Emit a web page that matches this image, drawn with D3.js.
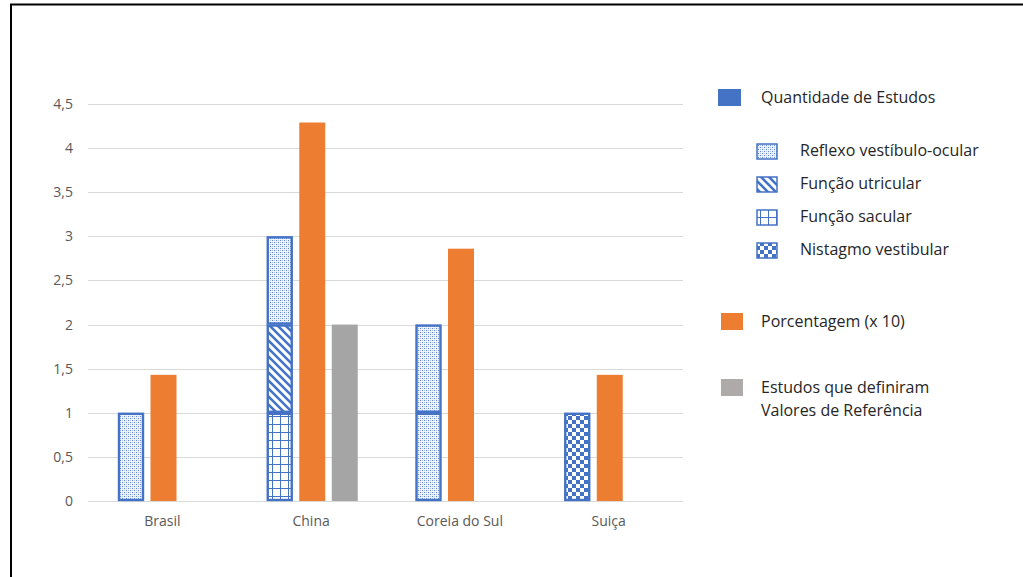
<!DOCTYPE html>
<html>
<head>
<meta charset="utf-8">
<script src="https://cdn.jsdelivr.net/npm/d3@7"></script>
<style>
  body { margin: 0; background: #fff; }
  svg { display: block; font-family: "Open Sans", "Noto Sans", sans-serif; }
  svg text { font-family: "Open Sans", "Noto Sans", sans-serif; }
</style>
</head>
<body>
<svg id="chart" width="1023" height="577"></svg>
<script>
/* Estudos por país */

var countries = ["Brasil", "China", "Coreia do Sul", "Suiça"];
// segmentos empilhados da "Quantidade de Estudos" (cada um vale 1 estudo), de baixo para cima
var studySegments = [
    ["vor"],
    ["sacular", "utricular", "vor"],
    ["vor", "vor"],
    ["nistagmo"]
];
var percentage = [1.43, 4.29, 2.86, 1.43];
var referenceStudies = [0, 2, 0, 0];
var yTicks = [0, 0.5, 1, 1.5, 2, 2.5, 3, 3.5, 4, 4.5];

var patternKeys = ["vor", "utricular", "sacular", "nistagmo"];
var patternLabels = ["Reflexo vestíbulo-ocular", "Função utricular", "Função sacular", "Nistagmo vestibular"];

var blue = "#4472C4";
var orange = "#ED7D31";
var gray = "#A5A5A5";

var svg = d3.select("#chart");

// moldura
svg.append("path")
    .attr("d", "M11,580 L11,4.5 L1030,4.5")
    .attr("fill", "none")
    .attr("stroke", "#000")
    .attr("stroke-width", 2);

// padrões
var defs = svg.append("defs");

var pVor = defs.append("pattern").attr("id", "p-vor")
    .attr("patternUnits", "userSpaceOnUse").attr("width", 4).attr("height", 4);
pVor.append("rect").attr("width", 4).attr("height", 4).attr("fill", "#eef2fa");
pVor.append("rect").attr("x", 0).attr("y", 0).attr("width", 1).attr("height", 1).attr("fill", blue).attr("opacity", 0.85);
pVor.append("rect").attr("x", 2).attr("y", 2).attr("width", 1).attr("height", 1).attr("fill", blue).attr("opacity", 0.85);
pVor.append("rect").attr("x", 2).attr("y", 0).attr("width", 1).attr("height", 1).attr("fill", blue).attr("opacity", 0.35);
pVor.append("rect").attr("x", 0).attr("y", 2).attr("width", 1).attr("height", 1).attr("fill", blue).attr("opacity", 0.35);

var pUtr = defs.append("pattern").attr("id", "p-utricular")
    .attr("patternUnits", "userSpaceOnUse").attr("width", 8).attr("height", 8);
pUtr.append("rect").attr("width", 8).attr("height", 8).attr("fill", "#fff");
pUtr.append("path")
    .attr("d", "M-2,-2 L10,10 M-6,2 L6,14 M2,-6 L14,6")
    .attr("stroke", blue).attr("stroke-width", 2.6);

var pSac = defs.append("pattern").attr("id", "p-sacular")
    .attr("patternUnits", "userSpaceOnUse").attr("width", 8).attr("height", 8);
pSac.append("rect").attr("width", 8).attr("height", 8).attr("fill", "#fff");
pSac.append("path")
    .attr("d", "M0,0.5 L8,0.5 M0.5,0 L0.5,8")
    .attr("stroke", blue).attr("stroke-width", 1);

var pNis = defs.append("pattern").attr("id", "p-nistagmo")
    .attr("patternUnits", "userSpaceOnUse").attr("width", 8).attr("height", 8);
pNis.append("rect").attr("width", 8).attr("height", 8).attr("fill", "#fff");
pNis.append("rect").attr("x", 0).attr("y", 0).attr("width", 4).attr("height", 4).attr("fill", blue);
pNis.append("rect").attr("x", 4).attr("y", 4).attr("width", 4).attr("height", 4).attr("fill", blue);

// escalas
var x = d3.scaleBand().domain(countries).range([88, 683]);
var series = ["estudos", "porcentagem", "referencia"];
var xSub = d3.scaleBand().domain(series).range([30, 121]).paddingInner(0.2);
var y = d3.scaleLinear().domain([0, 4.5]).range([501, 104]);

var ptBR = d3.formatLocale({ decimal: ",", thousands: ".", grouping: [3], currency: ["R$", ""] });
var fmt = ptBR.format("");

// grade
svg.append("g").selectAll("line")
    .data(yTicks)
    .enter()
    .append("line")
    .attr("x1", 88).attr("x2", 683)
    .attr("y1", function (d) { return Math.round(y(d)) + 0.5; })
    .attr("y2", function (d) { return Math.round(y(d)) + 0.5; })
    .attr("stroke", "#d9d9d9")
    .attr("stroke-width", 1);

// eixo y
var yAxis = svg.append("g")
    .attr("transform", "translate(88,0)")
    .call(d3.axisLeft(y).tickValues(yTicks).tickFormat(fmt).tickSize(0).tickPadding(15));
yAxis.select(".domain").remove();
yAxis.selectAll("text")
    .attr("fill", "#595959")
    .style("font-size", "14px");

// eixo x
var xAxis = svg.append("g")
    .attr("transform", "translate(0,501)")
    .call(d3.axisBottom(x).tickSize(0).tickPadding(15));
xAxis.select(".domain").remove();
xAxis.selectAll("text")
    .attr("fill", "#595959")
    .style("font-size", "14px");

// barras empilhadas de estudos
var stackRows = [];
studySegments.forEach(function (segs, i) {
    segs.forEach(function (kind, j) {
        stackRows.push({ country: countries[i], kind: kind, y0: j, y1: j + 1 });
    });
});

svg.append("g").selectAll("rect")
    .data(stackRows)
    .enter()
    .append("rect")
    .attr("x", function (d) { return x(d.country) + xSub("estudos") + 1; })
    .attr("width", xSub.bandwidth() - 2)
    .attr("y", function (d) { return y(d.y1) + 1; })
    .attr("height", function (d) { return y(d.y0) - y(d.y1) - 2; })
    .attr("fill", function (d) { return "url(#p-" + d.kind + ")"; })
    .attr("stroke", blue)
    .attr("stroke-width", 2.4);

// porcentagem
svg.append("g").selectAll("rect")
    .data(percentage)
    .enter()
    .append("rect")
    .attr("x", function (d, i) { return x(countries[i]) + xSub("porcentagem"); })
    .attr("width", xSub.bandwidth())
    .attr("y", function (d) { return y(d); })
    .attr("height", function (d) { return y(0) - y(d); })
    .attr("fill", orange);

// estudos com valores de referência
svg.append("g").selectAll("rect")
    .data(referenceStudies)
    .enter()
    .append("rect")
    .attr("x", function (d, i) { return x(countries[i]) + xSub("referencia"); })
    .attr("width", xSub.bandwidth())
    .attr("y", function (d) { return y(d); })
    .attr("height", function (d) { return y(0) - y(d); })
    .attr("fill", gray);

// legenda
var legend = svg.append("g").style("font-size", "16px").attr("fill", "#262626");

legend.append("rect").attr("x", 718).attr("y", 89).attr("width", 23).attr("height", 17).attr("fill", blue);
legend.append("text").attr("x", 761).attr("y", 103).text("Quantidade de Estudos");

var patRows = legend.selectAll(".pat-row")
    .data(patternKeys)
    .enter()
    .append("g")
    .attr("class", "pat-row")
    .attr("transform", function (d, i) { return "translate(0," + (151 + i * 33) + ")"; });
patRows.append("rect")
    .attr("x", 757).attr("y", -7).attr("width", 20).attr("height", 15)
    .attr("fill", function (d) { return "url(#p-" + d + ")"; })
    .attr("stroke", blue).attr("stroke-width", 1.5);
patRows.append("text")
    .attr("x", 800).attr("y", 5)
    .text(function (d, i) { return patternLabels[i]; });

legend.append("rect").attr("x", 721).attr("y", 313).attr("width", 22).attr("height", 17).attr("fill", orange);
legend.append("text").attr("x", 761).attr("y", 327).text("Porcentagem (x 10)");

legend.append("rect").attr("x", 721).attr("y", 379).attr("width", 22).attr("height", 17).attr("fill", "#AEAAAA");
legend.append("text").attr("x", 761).attr("y", 393).text("Estudos que definiram");
legend.append("text").attr("x", 761).attr("y", 416).text("Valores de Referência");
</script>
</body>
</html>
